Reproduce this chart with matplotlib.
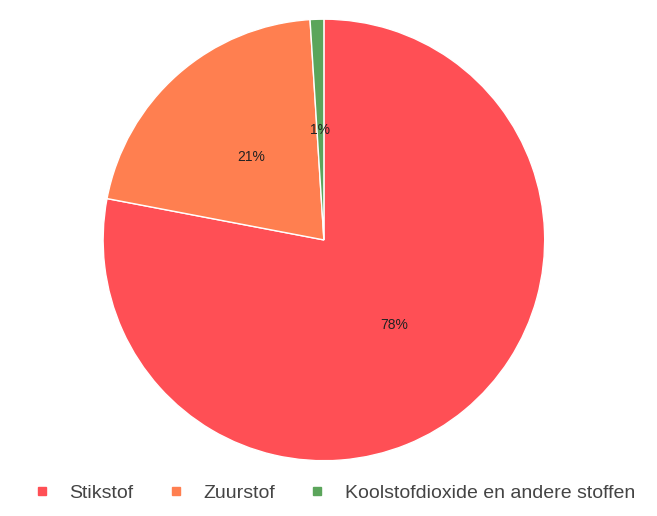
import matplotlib.pyplot as plt
from matplotlib.lines import Line2D

plt.rcParams['font.family'] = ['Liberation Sans', 'DejaVu Sans']

labels = ["Stikstof", "Zuurstof", "Koolstofdioxide en andere stoffen"]
values = [78, 21, 1]
colors = ["#FF4F55", "#FF7F50", "#5BA55B"]

fig = plt.figure(figsize=(6.57, 5.16), dpi=100)
ax = fig.add_axes([0.155, 0.105, 0.676, 0.86])
ax.pie(values, colors=colors, startangle=90, counterclock=False,
       autopct="%d%%", pctdistance=0.5,
       wedgeprops=dict(edgecolor="white", linewidth=1),
       textprops=dict(fontsize=10, color="#222222"))
ax.set_xlim(-1.005, 1.005)
ax.set_ylim(-1.005, 1.005)
ax.set_aspect("equal")

handles = [Line2D([], [], marker="s", linestyle="none", markersize=6,
                  markerfacecolor=c, markeredgecolor=c) for c in colors]
fig.legend(handles, labels, loc="center", bbox_to_anchor=(0.5, 0.045), ncol=3,
           frameon=False, fontsize=14, handletextpad=0.4, columnspacing=1.2,
           labelcolor="#444444")

fig.savefig("out.png", dpi=100)
